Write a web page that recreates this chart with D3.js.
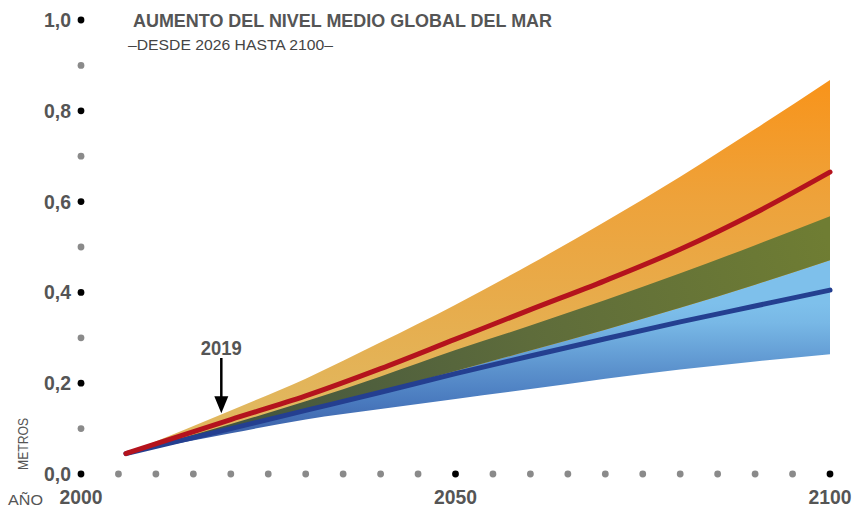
<!DOCTYPE html>
<html>
<head>
<meta charset="utf-8">
<script src="https://cdn.jsdelivr.net/npm/d3@7"></script>
<style>
  body { margin: 0; background: #fff; }
  svg { display: block; }
</style>
</head>
<body>
<div id="chart"></div>
<script>
/*---------- DATA ----------*/
const years = [2006, 2020, 2030, 2040, 2050, 2060, 2070, 2080, 2090, 2100];

// high scenario (orange band + red median)
const highUpper  = [0.045, 0.14, 0.21, 0.29, 0.373, 0.462, 0.556, 0.655, 0.76, 0.868];
const highMedian = [0.045, 0.12, 0.172, 0.232, 0.297, 0.362, 0.426, 0.495, 0.575, 0.665];
const highLower  = [0.045, 0.10, 0.138, 0.182, 0.227, 0.272, 0.318, 0.366, 0.417, 0.471];

// low scenario (blue band + blue median)
const lowUpper  = [0.045, 0.11, 0.16, 0.215, 0.273, 0.327, 0.383, 0.442, 0.504, 0.568];
const lowMedian = [0.045, 0.10, 0.14, 0.18, 0.221, 0.26, 0.298, 0.335, 0.37, 0.405];
const lowLower  = [0.045, 0.09, 0.12, 0.143, 0.165, 0.187, 0.21, 0.23, 0.248, 0.264];

const yTicks = [0, 0.1, 0.2, 0.3, 0.4, 0.5, 0.6, 0.7, 0.8, 0.9, 1.0];
const yLabels = ["0,0", "", "0,2", "", "0,4", "", "0,6", "", "0,8", "", "1,0"];
const xTicks = d3.range(2000, 2101, 5);
const xLabels = [2000, 2050, 2100];

const title = "AUMENTO DEL NIVEL MEDIO GLOBAL DEL MAR";
const subtitle = "\u2013DESDE 2026 HASTA 2100\u2013";

/*---------- PLOTTING ----------*/
const width = 852;
const height = 508;
const font = "'Liberation Sans', Arial, sans-serif";

const svg = d3.select("#chart")
  .append("svg")
  .attr("width", width)
  .attr("height", height);

const x = d3.scaleLinear().domain([2000, 2100]).range([81, 830]);
const y = d3.scaleLinear().domain([0, 1]).range([474, 20]);

// gradients (vertical, in metres)
const defs = svg.append("defs");

function addGradient(id, x1, y1, x2, y2, stops) {
  const g = defs.append("linearGradient")
    .attr("id", id)
    .attr("gradientUnits", "userSpaceOnUse")
    .attr("x1", x1).attr("y1", y1)
    .attr("x2", x2).attr("y2", y2);
  stops.forEach(s => g.append("stop").attr("offset", s[0]).attr("stop-color", s[1]));
}

addGradient("grad-orange", 0, y(0.15), 0, y(0.86),
  [[0, "#e1b75e"], [0.35, "#e8ab4a"], [0.65, "#eea23a"], [1, "#f8941b"]]);
addGradient("grad-blue", 0, y(0.075), 0, y(0.375),
  [[0, "#3a5ca5"], [0.29, "#4a7bbf"], [0.5, "#5a90cc"], [0.86, "#78b8e6"], [1, "#7ec0eb"]]);
addGradient("grad-green", x(2020), y(0.1), x(2100), y(0.5),
  [[0, "#43553f"], [0.5, "#5e6c3b"], [1, "#6f7d33"]]);

const rows = years.map((yr, i) => ({
  year: yr,
  hu: highUpper[i], hm: highMedian[i], hl: highLower[i],
  lu: lowUpper[i], lm: lowMedian[i], ll: lowLower[i]
}));

const curve = d3.curveMonotoneX;

function band(lo, hi) {
  return d3.area()
    .curve(curve)
    .x(d => x(d.year))
    .y0(d => y(lo(d)))
    .y1(d => y(hi(d)));
}

// low band
svg.append("path")
  .datum(rows)
  .attr("d", band(d => d.ll, d => d.lu))
  .attr("fill", "url(#grad-blue)");

// high band
svg.append("path")
  .datum(rows)
  .attr("d", band(d => d.hl, d => d.hu))
  .attr("fill", "url(#grad-orange)");

// overlap
svg.append("path")
  .datum(rows)
  .attr("d", band(d => Math.max(d.hl, d.ll), d => Math.min(d.hu, d.lu)))
  .attr("fill", "url(#grad-green)");

// median lines
const line = key => d3.line().curve(curve).x(d => x(d.year)).y(d => y(d[key]));

svg.append("path")
  .datum(rows)
  .attr("d", line("lm"))
  .attr("fill", "none")
  .attr("stroke", "#243f90")
  .attr("stroke-width", 5)
  .attr("stroke-linecap", "round");

svg.append("path")
  .datum(rows)
  .attr("d", line("hm"))
  .attr("fill", "none")
  .attr("stroke", "#b4131d")
  .attr("stroke-width", 5)
  .attr("stroke-linecap", "round");

// y axis dots and labels
svg.selectAll("circle.ydot")
  .data(yTicks)
  .join("circle")
  .attr("class", "ydot")
  .attr("cx", x(2000))
  .attr("cy", d => y(d))
  .attr("r", 3.4)
  .attr("fill", (d, i) => i % 2 === 0 ? "#000" : "#8a8a8a");

svg.selectAll("text.ylab")
  .data(yTicks.filter((d, i) => yLabels[i] !== ""))
  .join("text")
  .attr("class", "ylab")
  .attr("x", x(2000) - 10)
  .attr("y", d => y(d) + 7)
  .attr("text-anchor", "end")
  .attr("font-family", font)
  .attr("font-weight", "bold")
  .attr("font-size", "20px")
  .attr("textLength", 27)
  .attr("lengthAdjust", "spacingAndGlyphs")
  .attr("fill", "#555")
  .text(d => yLabels[yTicks.indexOf(d)]);

// x axis dots and labels
svg.selectAll("circle.xdot")
  .data(xTicks.slice(1))
  .join("circle")
  .attr("class", "xdot")
  .attr("cx", d => x(d))
  .attr("cy", y(0))
  .attr("r", 3.4)
  .attr("fill", d => d % 50 === 0 ? "#000" : "#8a8a8a");

svg.selectAll("text.xlab")
  .data(xLabels)
  .join("text")
  .attr("class", "xlab")
  .attr("x", d => x(d))
  .attr("y", 504)
  .attr("text-anchor", "middle")
  .attr("font-family", font)
  .attr("font-weight", "bold")
  .attr("font-size", "20px")
  .attr("textLength", 43)
  .attr("lengthAdjust", "spacingAndGlyphs")
  .attr("fill", "#555")
  .text(d => d);

// axis names
svg.append("text")
  .attr("x", 8)
  .attr("y", 505)
  .attr("font-family", font)
  .attr("font-size", "15px")
  .attr("textLength", 35)
  .attr("lengthAdjust", "spacingAndGlyphs")
  .attr("fill", "#555")
  .text("AÑO");

svg.append("text")
  .attr("transform", "translate(28, 470) rotate(-90)")
  .attr("font-family", font)
  .attr("font-size", "15px")
  .attr("textLength", 52)
  .attr("lengthAdjust", "spacingAndGlyphs")
  .attr("fill", "#555")
  .text("METROS");

// title
svg.append("text")
  .attr("x", 133)
  .attr("y", 27)
  .attr("font-family", font)
  .attr("font-weight", "bold")
  .attr("font-size", "19px")
  .attr("textLength", 419)
  .attr("lengthAdjust", "spacingAndGlyphs")
  .attr("fill", "#555")
  .text(title);

svg.append("text")
  .attr("x", 128)
  .attr("y", 50)
  .attr("font-family", font)
  .attr("font-size", "14px")
  .attr("textLength", 205)
  .attr("lengthAdjust", "spacingAndGlyphs")
  .attr("fill", "#444")
  .text(subtitle);

// 2019 annotation
const ax = x(2019) - 2;
const tip = y(0.134);
svg.append("text")
  .attr("x", ax)
  .attr("y", 355)
  .attr("text-anchor", "middle")
  .attr("font-family", font)
  .attr("font-weight", "bold")
  .attr("font-size", "20px")
  .attr("textLength", 41)
  .attr("lengthAdjust", "spacingAndGlyphs")
  .attr("fill", "#555")
  .text("2019");

svg.append("line")
  .attr("x1", ax).attr("y1", 358)
  .attr("x2", ax).attr("y2", tip - 12)
  .attr("stroke", "#000")
  .attr("stroke-width", 2.5);

svg.append("path")
  .attr("d", `M${ax - 7},${tip - 17} L${ax + 7},${tip - 17} L${ax},${tip} Z`)
  .attr("fill", "#000");
</script>
</body>
</html>
